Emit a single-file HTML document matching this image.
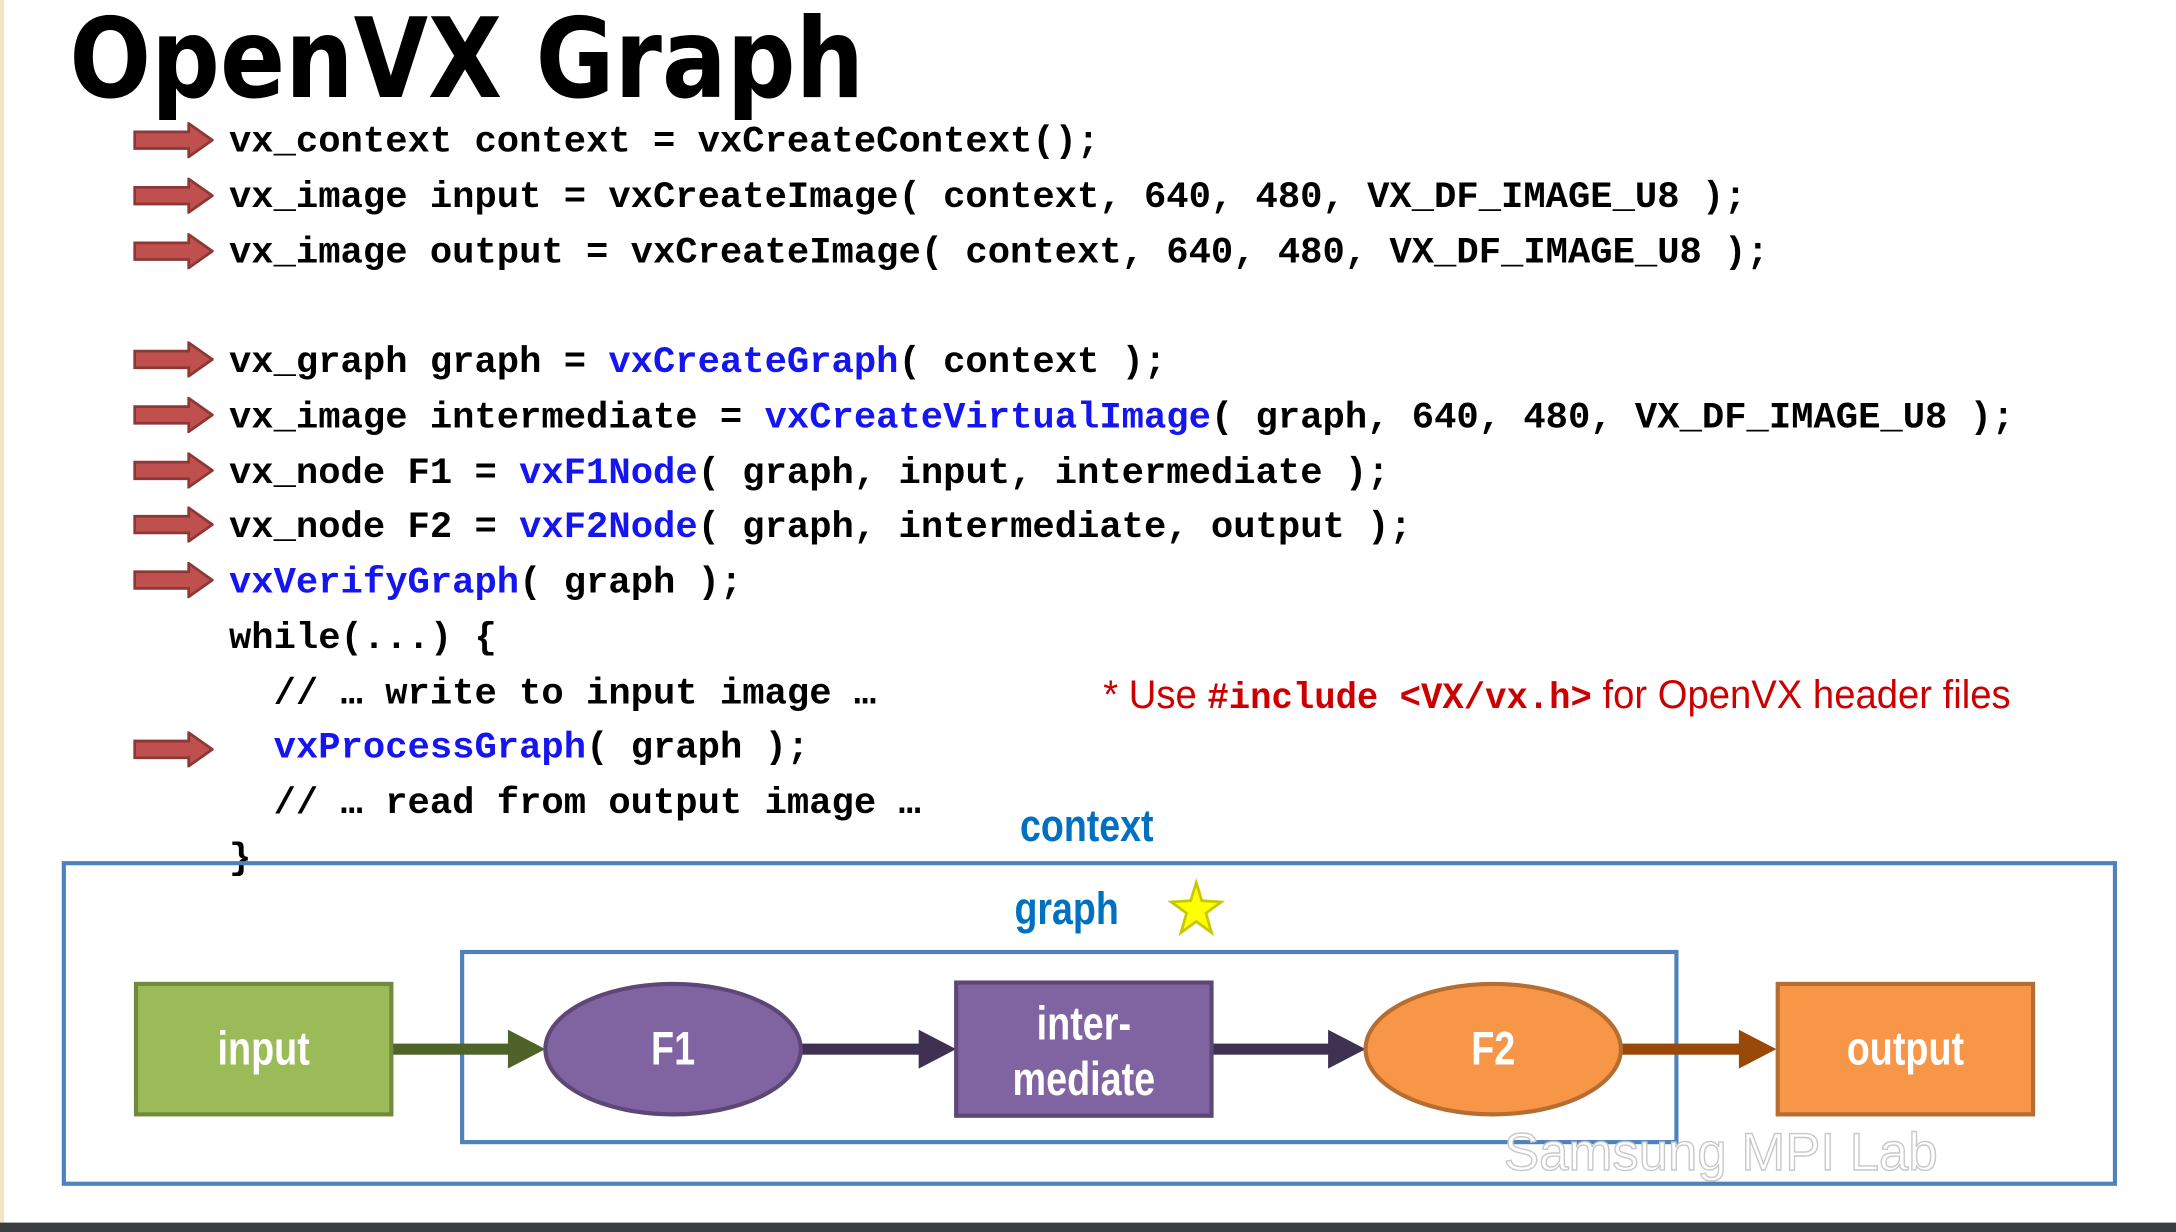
<!DOCTYPE html>
<html><head><meta charset="utf-8">
<style>
html,body{margin:0;padding:0;background:#fff;}
body{width:2176px;height:1232px;overflow:hidden;position:relative;}
#s{position:absolute;left:0;top:0;width:1568px;height:888px;transform:scale(1.38776);transform-origin:0 0;}
.abs{position:absolute;white-space:pre;}
.code{font-family:"Liberation Mono",monospace;font-weight:bold;font-size:26.8px;line-height:30px;color:#000;}
.b{color:#1515f0;}
.arr{position:absolute;left:96px;width:58px;height:26px;}
.title{font-family:"DejaVu Sans",sans-serif;font-weight:bold;font-size:80px;line-height:80px;transform-origin:0 0;}
.lbl{font-family:"Liberation Sans",sans-serif;font-weight:bold;color:#fff;font-size:34px;text-align:center;position:absolute;transform:scaleX(0.8);}
</style></head><body><div id="s">
<div style="position:absolute;left:0;top:0;width:3px;height:881px;background:#efe6c4"></div>
<div class="abs title" style="left:50px;top:3px;transform:scaleX(0.866);">OpenVX Graph</div>

<svg width="0" height="0" style="position:absolute"><defs>
<g id="ra"><polygon points="1,7 40,7 40,1 57,13 40,25 40,19 1,19" fill="#c0504d" stroke="#8c3836" stroke-width="2"/></g></defs></svg>

<svg class="arr" style="top:88px"><use href="#ra"/></svg>
<svg class="arr" style="top:128px"><use href="#ra"/></svg>
<svg class="arr" style="top:168px"><use href="#ra"/></svg>
<svg class="arr" style="top:246px"><use href="#ra"/></svg>
<svg class="arr" style="top:286px"><use href="#ra"/></svg>
<svg class="arr" style="top:326px"><use href="#ra"/></svg>
<svg class="arr" style="top:365px"><use href="#ra"/></svg>
<svg class="arr" style="top:405px"><use href="#ra"/></svg>
<svg class="arr" style="top:527px"><use href="#ra"/></svg>

<div class="abs code" style="left:165px;top:88px">vx_context context = vxCreateContext();</div>
<div class="abs code" style="left:165px;top:128px">vx_image input = vxCreateImage( context, 640, 480, VX_DF_IMAGE_U8 );</div>
<div class="abs code" style="left:165px;top:168px">vx_image output = vxCreateImage( context, 640, 480, VX_DF_IMAGE_U8 );</div>
<div class="abs code" style="left:165px;top:247px">vx_graph graph = <span class="b">vxCreateGraph</span>( context );</div>
<div class="abs code" style="left:165px;top:287px">vx_image intermediate = <span class="b">vxCreateVirtualImage</span>( graph, 640, 480, VX_DF_IMAGE_U8 );</div>
<div class="abs code" style="left:165px;top:327px">vx_node F1 = <span class="b">vxF1Node</span>( graph, input, intermediate );</div>
<div class="abs code" style="left:165px;top:366px">vx_node F2 = <span class="b">vxF2Node</span>( graph, intermediate, output );</div>
<div class="abs code" style="left:165px;top:406px"><span class="b">vxVerifyGraph</span>( graph );</div>
<div class="abs code" style="left:165px;top:446px">while(...) {</div>
<div class="abs code" style="left:165px;top:486px">  // … write to input image …</div>
<div class="abs code" style="left:165px;top:525px">  <span class="b">vxProcessGraph</span>( graph );</div>
<div class="abs code" style="left:165px;top:565px">  // … read from output image …</div>
<div class="abs code" style="left:165px;top:605px">}</div>

<div class="abs" style="left:795px;top:485px;font-family:'Liberation Sans',sans-serif;font-size:29px;color:#cc0000;transform:scaleX(0.95);transform-origin:0 0;">* Use <span style="font-family:'Liberation Mono',monospace;font-weight:bold;font-size:27px">#include &lt;VX/vx.h&gt;</span> for OpenVX header files</div>

<div class="abs" style="left:735px;top:576px;font-family:'Liberation Sans',sans-serif;font-weight:bold;font-size:33px;color:#0070c0;transform:scaleX(0.82);transform-origin:0 0;">context</div>

<svg style="position:absolute;left:0;top:600px" width="1568" height="288">
<rect x="46" y="22" width="1478" height="231" fill="none" stroke="#4f81bd" stroke-width="3"/>
<rect x="333" y="86" width="875" height="137" fill="none" stroke="#4f81bd" stroke-width="3"/>
<polygon points="862,36 866,49 880,50 869,58 873,72 862,64 851,72 855,58 844,50 858,49" fill="#ffff00" stroke="#c8c800" stroke-width="2"/>
<text x="1240" y="243" font-family="Liberation Sans,sans-serif" font-size="38" fill="#fff" stroke="#c8c8c8" stroke-width="1" text-anchor="middle">Samsung MPI Lab</text>
<rect x="282" y="152" width="90" height="8" fill="#4f6228"/><polygon points="366,142 393,156 366,170" fill="#4f6228"/>
<rect x="578" y="152" width="90" height="8" fill="#3f3151"/><polygon points="662,142 689,156 662,170" fill="#3f3151"/>
<rect x="873" y="152" width="90" height="8" fill="#3f3151"/><polygon points="957,142 984,156 957,170" fill="#3f3151"/>
<rect x="1168" y="152" width="90" height="8" fill="#984807"/><polygon points="1253,142 1280,156 1253,170" fill="#984807"/>
<rect x="98" y="109" width="184" height="94" fill="#9bbb59" stroke="#71893f" stroke-width="3"/>
<ellipse cx="485" cy="156" rx="92" ry="47" fill="#8064a2" stroke="#5c4776" stroke-width="3"/>
<rect x="689" y="108" width="184" height="96" fill="#8064a2" stroke="#5c4776" stroke-width="3"/>
<ellipse cx="1076" cy="156" rx="92" ry="47" fill="#f79646" stroke="#b66d31" stroke-width="3"/>
<rect x="1281" y="109" width="184" height="94" fill="#f79646" stroke="#b66d31" stroke-width="3"/>
</svg>

<div class="abs" style="left:731px;top:636px;font-family:'Liberation Sans',sans-serif;font-weight:bold;font-size:33px;color:#0070c0;transform:scaleX(0.82);transform-origin:0 0;">graph</div>

<div class="lbl" style="left:98px;top:737px;width:184px;">input</div>
<div class="lbl" style="left:393px;top:737px;width:184px;">F1</div>
<div class="lbl" style="left:689px;top:718px;width:184px;line-height:40px;">inter-<br>mediate</div>
<div class="lbl" style="left:984px;top:737px;width:184px;">F2</div>
<div class="lbl" style="left:1281px;top:737px;width:184px;">output</div>

<div style="position:absolute;left:0;top:881px;width:1568px;height:7px;background:#3a3d40"></div>
</div></body></html>
